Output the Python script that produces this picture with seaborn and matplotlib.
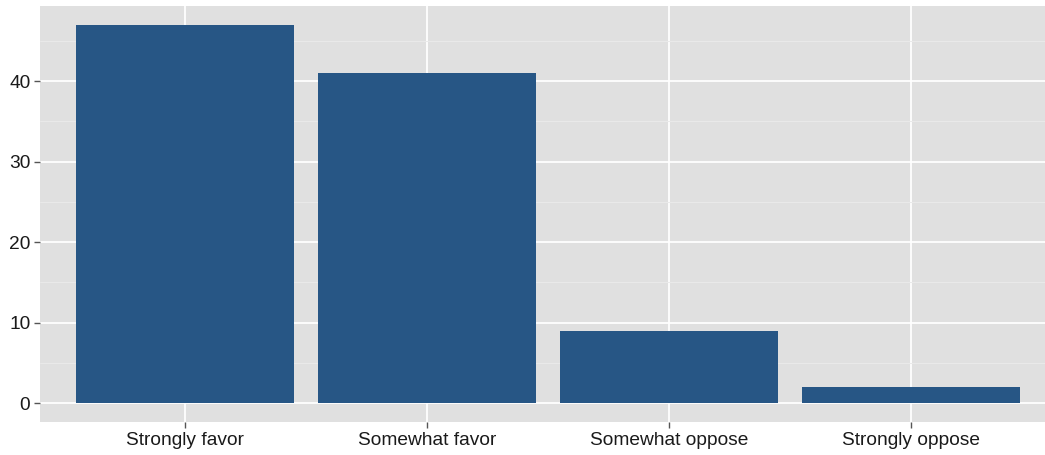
import matplotlib
matplotlib.use("Agg")
import matplotlib.pyplot as plt
import seaborn as sns
import pandas as pd
from matplotlib.ticker import MultipleLocator

# data
categories = ["Strongly favor", "Somewhat favor", "Somewhat oppose", "Strongly oppose"]
values = [47, 41, 9, 2]

df = pd.DataFrame({"response": categories, "pct": values})

sns.set_theme(style="darkgrid")
plt.rcParams["font.family"] = ["Liberation Sans", "DejaVu Sans"]

fig = plt.figure(figsize=(10.45, 4.55), dpi=100)
ax = fig.add_axes([40 / 1045, 33 / 455, 1 - 40 / 1045, (422 - 6) / 455])

sns.barplot(data=df, x="response", y="pct", color="#275685", saturation=1,
            width=0.9, linewidth=0, ax=ax, zorder=3)

ax.set_facecolor("#E0E0E0")
ax.set_xlim((40 - 185) / 242, (1045 - 185) / 242)
ax.set_ylim(-2.35, 49.35)
ax.yaxis.set_major_locator(MultipleLocator(10))
ax.yaxis.set_minor_locator(MultipleLocator(5))
ax.grid(which="major", color="white", linewidth=1.3, zorder=0)
ax.grid(which="minor", axis="y", color="#EAEAEA", linewidth=0.7, zorder=0)
ax.set_axisbelow(True)
for s in ax.spines.values():
    s.set_visible(False)

ax.set_xlabel("")
ax.set_ylabel("")
ax.tick_params(axis="both", which="major", length=4, width=1, color="#555555",
               labelsize=13.8, labelcolor="#1a1a1a", pad=3, bottom=True, left=True)
ax.tick_params(axis="both", which="minor", length=0)

fig.savefig("out.png", dpi=100, facecolor="white")
